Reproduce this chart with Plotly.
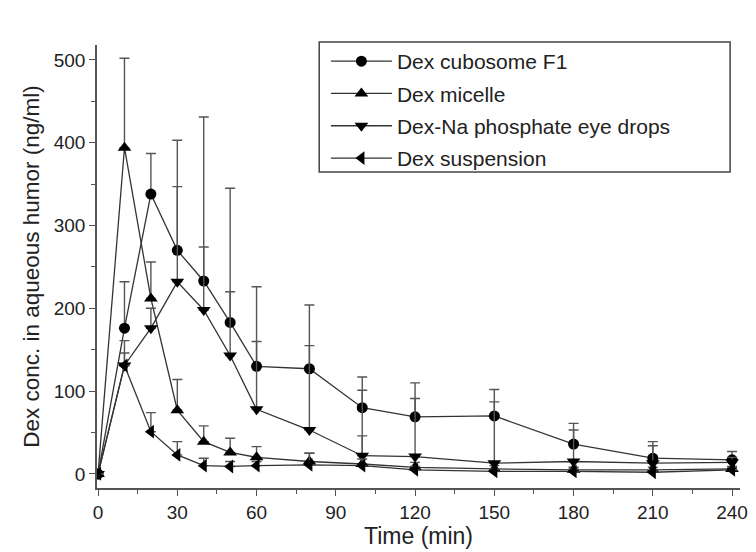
import plotly.graph_objects as go

# Sampling times (min)
time_min = [0, 10, 20, 30, 40, 50, 60, 80, 100, 120, 150, 180, 210, 240]

# Mean Dex concentration in aqueous humor (ng/ml) and upper error (SD)
cubosome = [0, 176, 338, 270, 233, 183, 130, 127, 80, 69, 70, 36, 19, 17]
cubosome_err = [0, 56, 49, 133, 198, 162, 96, 77, 37, 41, 32, 25, 20, 10]

micelle = [0, 394, 212, 77, 39, 26, 20, 15, 12, 8, 6, 5, 5, 6]
micelle_err = [0, 108, 44, 37, 19, 17, 13, 10, 34, 6, 4, 3, 3, 3]

na_phosphate = [0, 131, 176, 232, 198, 143, 78, 53, 22, 21, 13, 15, 13, 14]
na_phosphate_err = [0, 30, 24, 115, 76, 77, 82, 102, 79, 70, 74, 38, 21, 6]

suspension = [0, 131, 51, 23, 10, 9, 10, 11, 10, 5, 3, 3, 2, 5]
suspension_err = [0, 15, 23, 16, 9, 6, 5, 14, 8, 4, 3, 3, 3, 3]

series = [
    ("Dex cubosome F1", cubosome, cubosome_err, "circle", 11),
    ("Dex micelle", micelle, micelle_err, "triangle-up", 12),
    ("Dex-Na phosphate eye drops", na_phosphate, na_phosphate_err, "triangle-down", 12),
    ("Dex suspension", suspension, suspension_err, "triangle-left", 12),
]

FONT = "Liberation Sans, Arial, sans-serif"

fig = go.Figure()
for i, (name, vals, errs, sym, size) in enumerate(series):
    fig.add_trace(go.Scatter(
        x=time_min, y=vals, name=name, mode="lines+markers",
        legendgroup=f"g{i}",
        line=dict(color="#333333", width=1.3),
        marker=dict(symbol=sym, size=size, color="#000000"),
        error_y=dict(type="data", array=errs, symmetric=False,
                     arrayminus=[0] * len(errs),
                     color="#555555", thickness=1.4, width=5),
    ))

axis_common = dict(
    showline=True, linecolor="#555555", linewidth=1.5,
    ticks="outside", ticklen=6, tickwidth=1.3, tickcolor="#555555",
    showgrid=False, zeroline=False, mirror=False,
    tickfont=dict(family=FONT, size=19, color="#222222"),
)

fig.update_xaxes(
    range=[-0.4, 243], tickmode="array", tickvals=list(range(0, 241, 30)),
    minor=dict(dtick=15, tick0=0, ticks="outside", ticklen=4, tickcolor="#555555"),
    title=dict(text="Time (min)", font=dict(family=FONT, size=23, color="#222222"),
               standoff=4),
    **axis_common,
)
fig.update_yaxes(
    range=[-17, 518], tickmode="array", tickvals=list(range(0, 501, 100)),
    minor=dict(dtick=50, tick0=0, ticks="outside", ticklen=4, tickcolor="#555555"),
    title=dict(text="Dex conc. in aqueous humor (ng/ml)",
               font=dict(family=FONT, size=22.5, color="#222222"), standoff=8),
    **axis_common,
)

# Legend frame
fig.add_shape(type="rect", xref="paper", yref="paper",
              x0=0.3456, x1=0.9846, y0=0.7133, y1=1.0068,
              line=dict(color="#444444", width=1.5), fillcolor="rgba(0,0,0,0)")

fig.update_layout(
    width=756, height=552,
    margin=dict(l=97, r=8, t=45, b=64),
    paper_bgcolor="white", plot_bgcolor="white",
    font=dict(family=FONT, color="#222222"),
    showlegend=True,
    legend=dict(x=0.356, y=1.009, xanchor="left", yanchor="top",
                bgcolor="rgba(0,0,0,0)", borderwidth=0,
                traceorder="grouped", tracegroupgap=2,
                font=dict(family=FONT, size=21, color="#222222"),
                itemwidth=61),
)

fig.write_html("out.html")
